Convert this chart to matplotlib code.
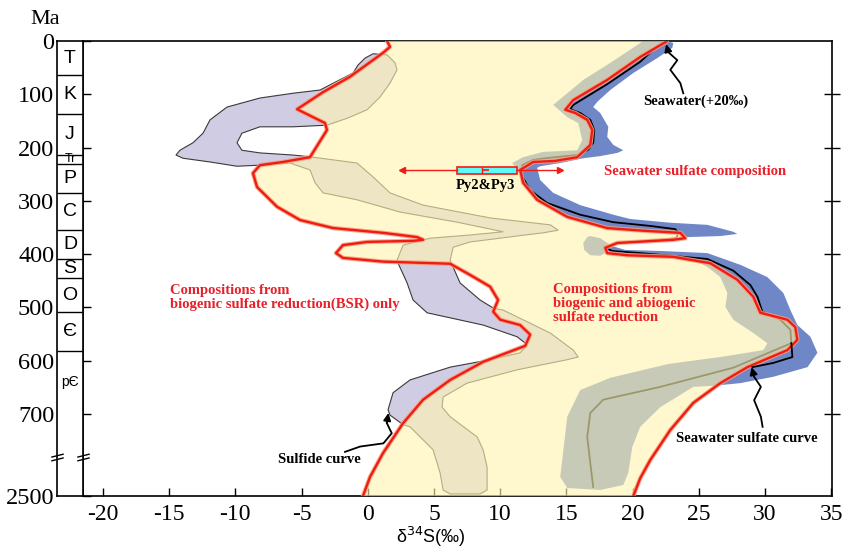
import numpy as np
import matplotlib
matplotlib.use("Agg")
import matplotlib.pyplot as plt
from matplotlib.patches import Polygon
from matplotlib.path import Path
from matplotlib.transforms import blended_transform_factory

plt.rcParams['font.family'] = ['Liberation Serif', 'DejaVu Sans']
plt.rcParams['axes.unicode_minus'] = False

# ---------------- data (delta34S permil, age Ma) ----------------
# left boundary of the yellow field (BSR-only limit), top -> bottom
bsr_limit_d34s = [1.46, 1.68, 1.16, -1.34, -3.38, -5.34, -3.23, -3.08, -4.36, -6.40, -8.14, -8.67, -8.36,
                  -6.85, -5.11, -2.62, 1.16, 3.72, 4.18, 3.42, -0.05, -1.87, -2.40, -1.87, 1.16, 6.22, 7.73,
                  9.24, 9.84, 9.47, 10.0, 11.5, 12.26, 11.89, 8.71, 6.22, 4.18, 2.67, 1.16, 0.17, -0.36]
bsr_limit_age = [0, 11, 22, 67, 96, 128, 154, 167, 218, 227, 233, 248, 274, 311, 336, 351, 360, 368, 373,
                 375, 377, 383, 398, 407, 414, 418, 439, 461, 486, 508, 523, 533, 551, 572, 602, 636, 673,
                 717, 773, 1668, 2500]

# right boundary of the yellow field (seawater sulfate), top -> bottom
sw_limit_d34s = [22.61, 20.57, 18.08, 15.51, 14.91, 15.66, 16.57, 16.95, 16.80, 15.81, 14.15, 12.49, 11.51,
                 11.73, 12.79, 15.06, 18.08, 20.80, 23.60, 23.97, 23.07, 18.84, 17.93, 18.08, 19.59, 23.07,
                 25.86, 27.90, 29.11, 29.64, 31.68, 32.28, 32.43, 31.68, 28.66, 26.62, 24.58, 22.84, 21.33,
                 20.57, 20.05]
sw_limit_age = [0, 30, 73, 111, 129, 135, 148, 167, 195, 218, 225, 227, 242, 266, 298, 330, 351, 356, 360,
                370, 373, 379, 388, 398, 402, 405, 417, 448, 480, 510, 523, 537, 561, 580, 612, 642, 679,
                730, 924, 1725, 2500]

# sulfide envelope (outline)
sulfide_d34s = [0.40, 1.46, 2.06, 2.21, 1.68, 0.93, -0.05, -1.56, -3.08, -5.64,
                -8.14, -9.50, -9.87, -9.50, -8.14, -5.64, -4.13, -0.81, 0.40, 1.68,
                4.18, 9.24, 13.78, 14.38, 13.24, 11.89, 10.0, 7.73, 6.45, 6.22,
                6.37, 6.97, 8.48, 9.47, 10.23, 13.78, 15.51, 15.89, 15.06, 11.28,
                7.50, 5.69, 5.61, 6.22, 8.26, 8.71, 9.01, 9.01, 8.48, 6.22,
                5.69, 5.46, 4.93, 3.19, 2.67, 1.68, 1.53, 1.91, 3.19, 6.22,
                9.24, 11.51, 12.04, 11.28, 8.71, 4.48, 3.42, 2.97, 2.29, 2.21,
                2.67, 4.71, 7.73, 10.23, 6.75, 2.44, -0.81, -3.38, -3.98, -4.36,
                -5.87, -8.14, -9.87, -11.91, -13.95, -14.48, -14.18, -13.20, -12.44, -11.91,
                -10.63, -8.14, -5.64, -3.60, -1.11, -0.73, -0.20]
sulfide_age = [24, 26, 41, 54, 79, 105, 129, 145, 158, 161,
               161, 173, 191, 205, 210, 214, 218, 229, 255, 285,
               308, 332, 345, 355, 360, 364, 370, 377, 387, 411,
               420, 454, 486, 501, 505, 548, 580, 593, 598, 617,
               642, 668, 687, 705, 743, 767, 1231, 2237, 2412, 2412,
               2237, 1493, 767, 724, 720, 702, 692, 660, 636, 612,
               598, 585, 570, 555, 533, 510, 486, 454, 417, 411,
               383, 370, 364, 358, 340, 321, 298, 285, 266, 242,
               229, 233, 235, 227, 220, 214, 205, 191, 173, 148,
               124, 107, 98, 92, 60, 45, 32]

# seawater sulfate envelope, upper and lower parts (outline)
sw_band1_d34s = [22.61, 23.07, 22.99, 21.86, 20.05, 18.31, 17.33, 17.02, 17.55, 18.16,
                 18.08, 18.54, 19.29, 18.84, 17.55, 16.27, 14.53, 13.02, 12.79, 13.02,
                 14.0, 16.04, 18.54, 19.82, 22.84, 25.64, 27.60, 27.90, 26.62, 24.12,
                 23.60, 20.80, 18.08, 15.06, 12.79, 11.73, 11.43, 10.90, 11.73, 13.24,
                 15.81, 16.19, 15.89, 15.06, 14.0, 16.27, 18.31, 20.80]
sw_band1_age = [0, 4, 13, 32, 60, 92, 114, 124, 135, 161,
                180, 195, 205, 210, 216, 220, 229, 235, 238, 261,
                285, 308, 326, 334, 341, 345, 358, 362, 366, 368,
                360, 355, 349, 328, 296, 266, 246, 229, 218, 208,
                205, 186, 154, 143, 120, 73, 41, 0]
sw_band2_d34s = [16.80, 17.55, 18.46, 19.44, 22.09, 25.64, 28.13, 30.17, 31.38, 31.91,
                 32.44, 33.42, 33.95, 33.20, 30.63, 28.13, 26.09, 24.58, 22.09, 20.57,
                 19.97, 19.67, 19.29, 17.55, 15.06, 14.53, 15.06, 16.04, 18.31, 22.69,
                 26.62, 29.87, 30.17, 29.11, 27.60, 27.0, 27.15, 26.62, 25.64, 25.11,
                 23.07, 19.59, 18.08, 17.55, 16.80, 16.34, 16.27, 16.57]
sw_band2_age = [366, 370, 385, 392, 394, 398, 420, 443, 473, 505,
                533, 555, 585, 612, 630, 642, 647, 649, 687, 724,
                762, 1493, 2019, 2237, 2150, 1668, 705, 655, 632, 606,
                593, 580, 567, 548, 523, 499, 473, 443, 424, 417,
                403, 400, 396, 403, 402, 392, 379, 368]

# seawater sulfate curve
sw_curve_d34s = [22.46, 21.71, 20.57, 18.08, 15.51, 15.29, 16.04, 16.80, 17.10, 17.02, 16.65, 15.81,
                 13.78, 12.49, 11.66, 11.58, 11.73, 12.26, 13.55, 16.04, 18.54, 21.33, 23.22, 23.45,
                 23.29, 22.09, 18.84, 17.93, 18.46, 20.57, 25.64, 27.60, 28.89, 29.42, 29.79, 31.15,
                 31.91, 31.98, 27.60, 22.09, 17.78, 16.80, 16.57, 16.80, 17.02]
sw_curve_age = [4, 13, 39, 81, 120, 128, 135, 148, 167, 191, 204, 214,
                219, 223, 233, 246, 257, 280, 304, 326, 340, 347, 353, 360,
                370, 373, 379, 388, 394, 398, 409, 431, 458, 480, 508, 523,
                542, 567, 613, 649, 673, 698, 743, 1056, 2106]
sw_curve_end_d34s = [31.98, 32.06, 30.63, 29.04]
sw_curve_end_age = [567, 593, 604, 612]

# Py2 & Py3 statistics
py_age = 243
py_min, py_q1, py_med, py_mean, py_q3, py_max = 2.57, 6.77, 8.61, 8.95, 11.26, 14.53

# geological column
period_labels = ['T', 'K', 'J', 'Tr', 'P', 'C', 'D', 'S', 'O', 'Є', 'pЄ']
period_label_age = [32, 100, 175, 222, 258, 320, 382, 427, 477, 545, 640]
period_bounds = [64, 137, 214, 231, 285, 355, 410, 445, 509, 581]

age_ticks = [0, 100, 200, 300, 400, 500, 600, 700, 2500]
d34s_ticks = [-20, -15, -10, -5, 0, 5, 10, 15, 20, 25, 30, 35]

# annotation arrows (tail path, tip)
arrow_sw20_d34s = [23.82, 23.60, 22.84, 23.37, 22.69, 22.53]
arrow_sw20_age = [98, 79, 54, 36, 21, 6]
arrow_swc_d34s = [29.81, 29.68, 29.17, 29.68, 29.17, 28.98]
arrow_swc_age = [724, 705, 674, 649, 630, 612]
arrow_sul_d34s = [-1.72, -0.58, 1.18, 1.81, 1.44, 1.56]
arrow_sul_age = [771, 761, 755, 736, 717, 698]

# ---------------- scale ----------------
BREAK = 780.0
COMP = 0.0429


def fwd(a):
    a = np.asarray(a, float)
    return np.where(a <= BREAK, a, BREAK + (a - BREAK) * COMP)


def inv(p):
    p = np.asarray(p, float)
    return np.where(p <= BREAK, p, BREAK + (p - BREAK) / COMP)


RED = '#F01C14'
TXT_RED = '#E8202A'
HALO = '#F7A07C'

fig = plt.figure(figsize=(8.43, 5.51), dpi=100)
ax = fig.add_axes([83 / 843, 55 / 551, 749 / 843, 455 / 551])
axc = fig.add_axes([57 / 843, 55 / 551, 26 / 843, 455 / 551])

for a in (ax, axc):
    a.set_yscale('function', functions=(fwd, inv))
    a.set_ylim(2500, 0)
    for s in a.spines.values():
        s.set_linewidth(1.2)

ax.set_xlim(-21.5, 35.05)
axc.set_xlim(0, 1)

# bands under the yellow field
ax.add_patch(Polygon(np.column_stack([sulfide_d34s, sulfide_age]), closed=True,
                     facecolor='#D0CCE4', edgecolor='#3A3A3A', lw=0.8, zorder=1))
ax.add_patch(Polygon(np.column_stack([sw_band1_d34s, sw_band1_age]), closed=True,
                     facecolor='#6F87C7', edgecolor='none', zorder=1.1))
ax.add_patch(Polygon(np.column_stack([sw_band2_d34s, sw_band2_age]), closed=True,
                     facecolor='#6F87C7', edgecolor='none', zorder=1.1))
ax.plot(sw_curve_d34s, sw_curve_age, color='black', lw=1.3, zorder=1.5)

# yellow field (semi transparent)
yx = np.concatenate([bsr_limit_d34s, sw_limit_d34s[::-1]])
yy = np.concatenate([bsr_limit_age, sw_limit_age[::-1]])
ax.add_patch(Polygon(np.column_stack([yx, yy]), closed=True, facecolor='#FFF5B0',
                     edgecolor='none', alpha=0.62, zorder=3))

for xs, ys in ((bsr_limit_d34s, bsr_limit_age), (sw_limit_d34s, sw_limit_age)):
    ax.plot(xs, ys, color=HALO, lw=3.2, alpha=0.85, zorder=4, solid_joinstyle='round',
            solid_capstyle='round')
    ax.plot(xs, ys, color=RED, lw=1.7, zorder=4.1, solid_joinstyle='round', solid_capstyle='round')

ax.plot(sw_curve_end_d34s, sw_curve_end_age, color='black', lw=1.3, zorder=5)

# annotation arrows
for xs, ys in ((arrow_sw20_d34s, arrow_sw20_age), (arrow_swc_d34s, arrow_swc_age),
               (arrow_sul_d34s, arrow_sul_age)):
    ax.plot(xs[:-1], ys[:-1], color='black', lw=1.3, zorder=5, solid_joinstyle='round')
    ax.annotate('', xy=(xs[-1], ys[-1]), xytext=(xs[-2], ys[-2]),
                arrowprops=dict(arrowstyle='-|>', color='black', lw=1.3, mutation_scale=11,
                                shrinkA=0, shrinkB=0), zorder=5)

# Py2&Py3 box
stats = [dict(med=py_med, q1=py_q1, q3=py_q3, whislo=py_min, whishi=py_max, mean=py_mean, fliers=[])]
bp_kw = dict(positions=[py_age], widths=[15], showmeans=True, showcaps=False, patch_artist=True,
             manage_ticks=False,
             boxprops=dict(facecolor='#5CFAFA', edgecolor=RED, lw=1.2),
             medianprops=dict(color=RED, lw=1.0),
             whiskerprops=dict(color=RED, lw=1.0),
             meanprops=dict(marker='_', markeredgecolor=RED, markersize=5, markeredgewidth=1.2),
             zorder=6)
try:
    ax.bxp(stats, orientation='horizontal', **bp_kw)
except TypeError:
    ax.bxp(stats, vert=False, **bp_kw)
ax.plot([py_min], [py_age], marker='<', color=RED, ms=4, zorder=6)
ax.plot([py_max], [py_age], marker='>', color=RED, ms=4, zorder=6)

# texts
bold = dict(weight='bold', size=10.5, zorder=7)
ax.text(24.73, 113, 'Seawater(+20‰)', ha='center', va='center', color='black', **bold)
ax.text(24.73, 244, 'Seawater sulfate composition', ha='center', va='center', color=TXT_RED, **bold)
ax.text(8.86, 272, 'Py2&Py3', ha='center', va='center', color='black', **bold)
ax.text(-14.93, 481, 'Compositions from\nbiogenic sulfate reduction(BSR) only', ha='left', va='center',
        color=TXT_RED, linespacing=1.1, **bold)
ax.text(14.0, 492, 'Compositions from\nbiogenic and abiogenic\nsulfate reduction', ha='left', va='center',
        color=TXT_RED, linespacing=1.1, **bold)
ax.text(-3.68, 924, 'Sulfide curve', ha='center', va='center', color='black', **bold)
ax.text(28.59, 745, 'Seawater sulfate curve', ha='center', va='center', color='black', **bold)

# ticks
ax.set_xticks(d34s_ticks)
ax.set_xticklabels([str(v) for v in d34s_ticks])
ax.tick_params(axis='x', direction='in', length=6, width=1, labelsize=17, pad=6)
ax.set_yticks(age_ticks[1:-1])
ax.tick_params(axis='y', left=False, right=True, labelleft=False, labelright=False,
               direction='inout', length=12, width=1)

axc.set_xticks([])
axc.set_yticks(age_ticks)
axc.set_yticklabels([str(v) for v in age_ticks])
axc.tick_params(axis='y', left=False, right=True, labelleft=True, labelright=False,
                direction='out', length=6, width=1, labelsize=17.5, pad=-4)

# geological column
axc.hlines(period_bounds, 0, 1, color='black', lw=1.0)
for lab, age in zip(period_labels, period_label_age):
    size = 14
    if lab == 'Tr':
        size = 9
    elif lab == 'pЄ':
        size = 10
    axc.text(0.5, age, lab, ha='center', va='center', size=size,
             family=['Liberation Sans', 'DejaVu Sans'])

# axis break marks
brk = Path([(-1, -0.55), (1, -0.05), (-1, 0.05), (1, 0.55)],
           [Path.MOVETO, Path.LINETO, Path.MOVETO, Path.LINETO])
tr = blended_transform_factory(axc.transAxes, axc.transData)
axc.plot([0, 1], [BREAK, BREAK], transform=tr, linestyle='none', marker=brk, ms=9,
         mec='black', mew=1.0, clip_on=False, zorder=8)

fig.text(45 / 843, 1 - 20 / 551, 'Ma', ha='center', va='center', size=16)
fig.text(431 / 843, 1 - 537 / 551, 'δ$^{34}$S(‰)', ha='center', va='center', size=13,
         family=['Liberation Sans', 'DejaVu Sans'])

fig.savefig('out.png', dpi=100)
